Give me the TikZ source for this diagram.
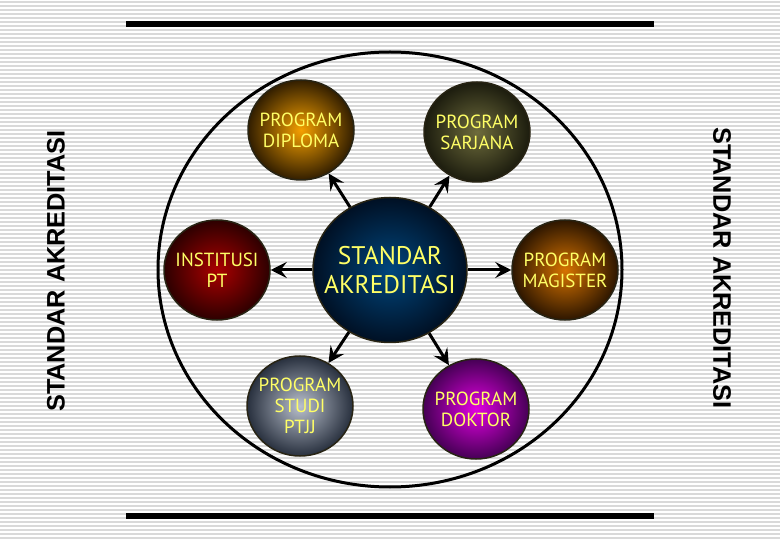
\documentclass[tikz,border=0pt]{standalone}
\usepackage{fontspec}
\setmainfont{PT Sans}
\newfontfamily\capfont{Liberation Sans}
\usetikzlibrary{arrows.meta, shapes.geometric}

\definecolor{labelyellow}{RGB}{255,255,102}
\definecolor{rimcol}{RGB}{40,36,20}

\begin{document}
\begin{tikzpicture}[x=1pt, y=-1pt, >={Stealth[length=16pt, width=16pt, inset=6pt]},
    bgline/.style={black!15, line width=1.5pt},
    bar/.style={line width=6pt},
    ball/.style={ellipse, draw=rimcol, line width=1.5pt, shading=radial, inner sep=0pt},
    sattext/.style={align=center, text=labelyellow, font=\fontsize{19}{21}\selectfont},
    hubtext/.style={align=center, text=labelyellow, font=\fontsize{25.5}{29}\selectfont},
    sat/.style={ball, minimum width=106pt, minimum height=100pt, label={[sattext]center:#1}},
    hub/.style={ball, minimum width=154pt, minimum height=145pt, label={[hubtext]center:#1}},
    sidetext/.style={font=\capfont\bfseries\fontsize{25.3}{26}\selectfont},
    arr/.style={->, line width=3pt}]
    \useasboundingbox (0,0) rectangle (780,540);

    % Striped background
    \foreach \i in {0,...,134}
      \draw[bgline] (0,4*\i+2) -- (780,4*\i+2);

    % Frame bars and outer ring
    \draw[bar] (126,24) -- (654,24);
    \draw[bar] (126,516) -- (654,516);
    \draw[line width=3pt] (390,269.5) ellipse [x radius=232, y radius=217.5];

    % Side captions
    \node[sidetext, rotate=90] (capleft) at (56,271) {STANDAR AKREDITASI};
    \node[sidetext, rotate=-90] (capright) at (722,268) {STANDAR AKREDITASI};

    % Hub
    \node[hub={STANDAR\\AKREDITASI}, inner color={rgb,255:red,0;green,70;blue,125}, outer color={rgb,255:red,0;green,16;blue,36}]
      (std) at (390,270) {};

    % Programmes round the hub
    \node[sat={PROGRAM\\DIPLOMA}, inner color={rgb,255:red,245;green,160;blue,0}, outer color={rgb,255:red,50;green,30;blue,0}]
      (dip) at (301,130) {};
    \node[sat={PROGRAM\\SARJANA}, inner color={rgb,255:red,110;green,108;blue,60}, outer color={rgb,255:red,28;green,28;blue,14}]
      (sar) at (477,132) {};
    \node[sat={INSTITUSI\\PT}, inner color={rgb,255:red,170;green,0;blue,0}, outer color={rgb,255:red,45;green,0;blue,0}]
      (ipt) at (217,270) {};
    \node[sat={PROGRAM\\MAGISTER}, inner color={rgb,255:red,215;green,115;blue,0}, outer color={rgb,255:red,45;green,22;blue,0}]
      (mag) at (565,270) {};
    \node[sat={PROGRAM\\STUDI\\PTJJ}, inner color={rgb,255:red,185;green,192;blue,205}, outer color={rgb,255:red,40;green,48;blue,62}]
      (pjj) at (300,406) {};
    \node[sat={PROGRAM\\DOKTOR}, inner color={rgb,255:red,225;green,0;blue,225}, outer color={rgb,255:red,70;green,0;blue,85}]
      (dok) at (476,409) {};

    \path[arr]
    (std) edge (dip)
    (std) edge (sar)
    (std) edge (ipt)
    (std) edge (mag)
    (std) edge (pjj)
    (std) edge (dok);
\end{tikzpicture}
\end{document}
